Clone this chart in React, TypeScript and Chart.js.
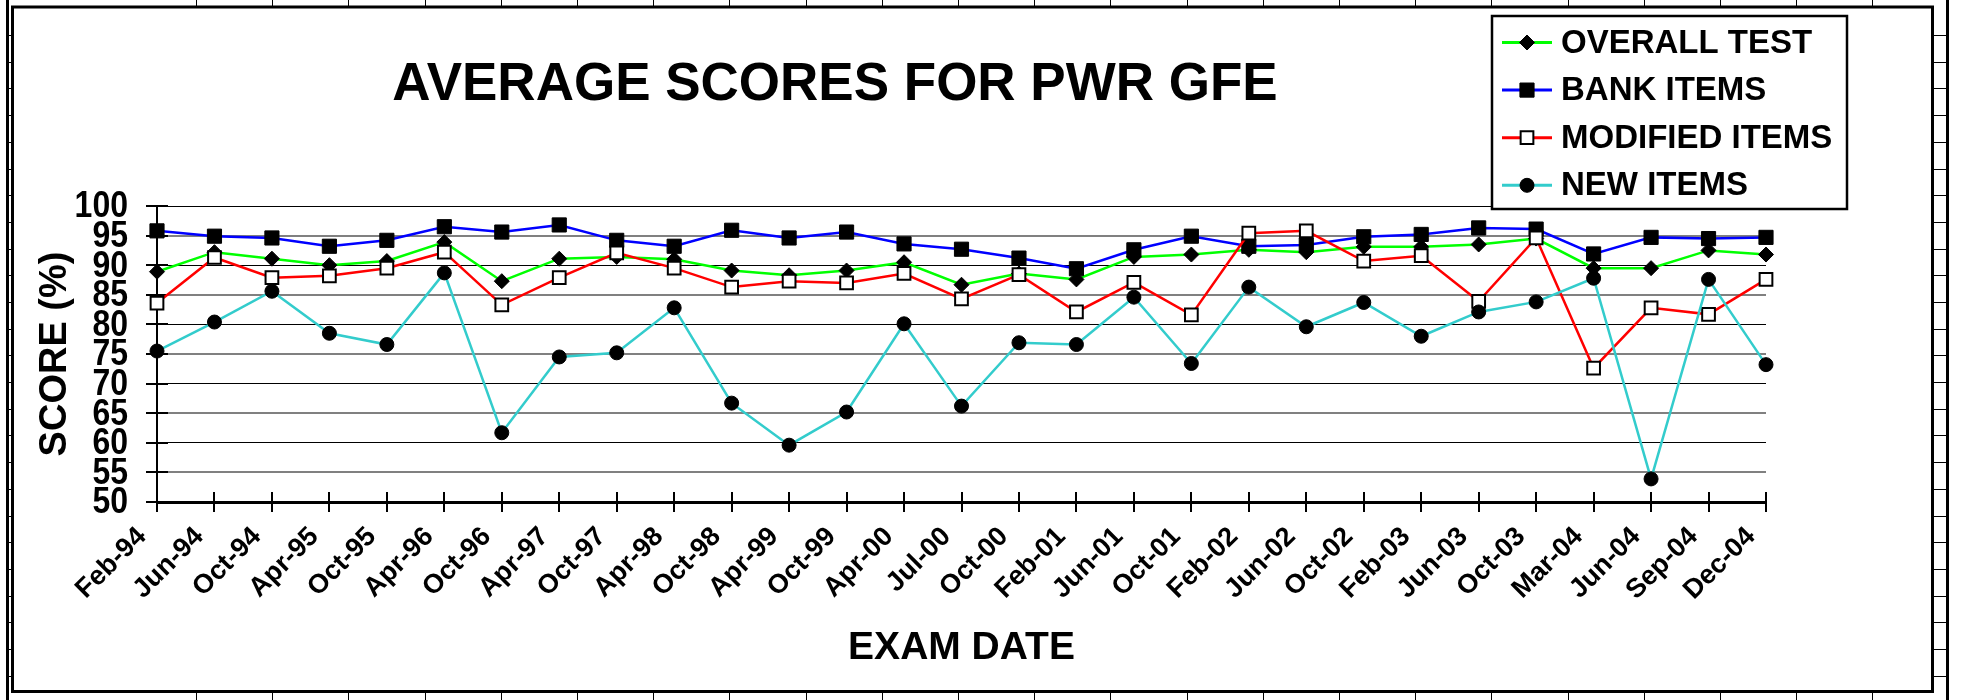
import React, { useEffect, useRef } from "react";
import { Chart, registerables } from "chart.js";
Chart.register(...registerables);

const examDates = [
  "Feb-94", "Jun-94", "Oct-94", "Apr-95", "Oct-95", "Apr-96", "Oct-96", "Apr-97",
  "Oct-97", "Apr-98", "Oct-98", "Apr-99", "Oct-99", "Apr-00", "Jul-00", "Oct-00",
  "Feb-01", "Jun-01", "Oct-01", "Feb-02", "Jun-02", "Oct-02", "Feb-03", "Jun-03",
  "Oct-03", "Mar-04", "Jun-04", "Sep-04", "Dec-04",
];

const overallTest = [
  88.9, 92.2, 91.1, 90.0, 90.7, 93.9, 87.3, 91.1, 91.4, 91.0,
  89.1, 88.3, 89.1, 90.5, 86.7, 88.6, 87.6, 91.4, 91.8, 92.6,
  92.2, 93.1, 93.1, 93.5, 94.5, 89.5, 89.5, 92.5, 91.8,
];

const bankItems = [
  95.8, 94.9, 94.6, 93.2, 94.2, 96.5, 95.6, 96.8, 94.2, 93.2,
  95.9, 94.6, 95.6, 93.6, 92.7, 91.2, 89.4, 92.6, 94.9, 93.2,
  93.4, 94.8, 95.2, 96.3, 96.1, 91.9, 94.7, 94.5, 94.7,
];

const modifiedItems = [
  83.6, 91.3, 87.9, 88.2, 89.5, 92.2, 83.3, 87.9, 92.1, 89.5,
  86.3, 87.3, 87.0, 88.6, 84.3, 88.4, 82.1, 87.1, 81.6, 95.4,
  95.8, 90.7, 91.6, 83.9, 94.6, 72.6, 82.8, 81.7, 87.6,
];

const newItems = [
  75.5, 80.4, 85.6, 78.5, 76.6, 88.7, 61.7, 74.5, 75.2, 82.8,
  66.7, 59.6, 65.2, 80.1, 66.2, 76.9, 76.6, 84.6, 73.4, 86.3,
  79.6, 83.7, 78.0, 82.1, 83.8, 87.8, 53.9, 87.6, 73.2,
];

const seriesNames = ["OVERALL TEST", "BANK ITEMS", "MODIFIED ITEMS", "NEW ITEMS"];
const chartTitle = "AVERAGE SCORES FOR PWR GFE";
const xTitle = "EXAM DATE";
const yTitle = "SCORE (%)";

const FONT = '"Liberation Sans", Arial, Helvetica, sans-serif';

function line(ctx: CanvasRenderingContext2D, x1: number, y1: number, x2: number, y2: number) {
  ctx.beginPath();
  ctx.moveTo(x1, y1);
  ctx.lineTo(x2, y2);
  ctx.stroke();
}

function drawMarker(ctx: CanvasRenderingContext2D, style: string, x: number, y: number, r: number, fill: string, stroke: string, bw: number) {
  ctx.save();
  ctx.fillStyle = fill;
  ctx.strokeStyle = stroke;
  ctx.lineWidth = bw;
  ctx.beginPath();
  if (style === "rectRot") {
    ctx.moveTo(x - r, y);
    ctx.lineTo(x, y - r);
    ctx.lineTo(x + r, y);
    ctx.lineTo(x, y + r);
    ctx.closePath();
  } else if (style === "rect") {
    const s = r * Math.SQRT1_2;
    ctx.rect(x - s, y - s, 2 * s, 2 * s);
  } else {
    ctx.arc(x, y, r, 0, Math.PI * 2);
  }
  ctx.fill();
  if (bw > 0) ctx.stroke();
  ctx.restore();
}

const decorPlugin = {
  id: "decor",
  beforeDraw(chart: any) {
    const ctx: CanvasRenderingContext2D = chart.ctx;
    ctx.save();
    ctx.fillStyle = "#fff";
    ctx.fillRect(0, 0, chart.width, chart.height);
    ctx.strokeStyle = "#000";
    ctx.lineWidth = 1;
    // spreadsheet column lines
    for (let k = 0; k <= 22; k++) {
      const x = Math.round(196 + 76.2 * k) + 0.5;
      line(ctx, x, 0, x, 7);
      line(ctx, x, 692, x, 700);
    }
    // spreadsheet row lines
    for (let y = 35; y < 690; y += 26.7) {
      const yy = Math.round(y) + 0.5;
      line(ctx, 8, yy, 12, yy);
      line(ctx, 1933, yy, 1947, yy);
    }
    ctx.lineWidth = 3;
    line(ctx, 7.5, 0, 7.5, 700);
    line(ctx, 1947.5, 0, 1947.5, 700);
    // chart frame
    ctx.strokeRect(12.5, 7, 1920, 684.5);
    ctx.restore();
  },
  beforeDatasetsDraw(chart: any) {
    const ctx: CanvasRenderingContext2D = chart.ctx;
    const xs = chart.scales.x;
    const ys = chart.scales.y;
    const area = chart.chartArea;
    ctx.save();
    ctx.strokeStyle = "#000";
    ctx.lineWidth = 2;
    ys.ticks.forEach((_t: any, i: number) => {
      const y = Math.round(ys.getPixelForTick(i));
      line(ctx, area.left - 11, y, area.left + 11, y);
    });
    xs.ticks.forEach((_t: any, i: number) => {
      const x = Math.round(xs.getPixelForTick(i));
      line(ctx, x, area.bottom - 10, x, area.bottom + 10);
    });
    // y tick labels (slightly tall, as in the reference)
    ctx.fillStyle = "#000";
    ctx.font = `bold 32px ${FONT}`;
    ctx.textAlign = "right";
    ctx.textBaseline = "middle";
    ys.ticks.forEach((t: any, i: number) => {
      const y = ys.getPixelForTick(i);
      ctx.save();
      ctx.translate(area.left - 29, y + 1);
      ctx.scale(1, 1.18);
      ctx.fillText(String(t.label), 0, 0);
      ctx.restore();
    });
    ctx.restore();
  },
  afterDraw(chart: any) {
    const ctx: CanvasRenderingContext2D = chart.ctx;
    const area = chart.chartArea;
    ctx.save();
    ctx.fillStyle = "#000";
    // main title
    ctx.font = `bold 53px ${FONT}`;
    ctx.textAlign = "center";
    ctx.textBaseline = "alphabetic";
    ctx.fillText(chartTitle, 835, 100);
    // x title
    ctx.font = `bold 39px ${FONT}`;
    ctx.fillText(xTitle, (area.left + area.right) / 2, 659);
    // y title
    ctx.save();
    ctx.translate(66, (area.top + area.bottom) / 2);
    ctx.rotate(-Math.PI / 2);
    ctx.font = `bold 38px ${FONT}`;
    ctx.fillText(yTitle, 0, 0);
    ctx.restore();

    // legend
    const lx = 1492, ly = 16, lw = 355, lh = 193;
    ctx.fillStyle = "#fff";
    ctx.fillRect(lx, ly, lw, lh);
    ctx.strokeStyle = "#000";
    ctx.lineWidth = 2.5;
    ctx.strokeRect(lx, ly, lw, lh);
    chart.data.datasets.forEach((ds: any, i: number) => {
      const y = 42.5 + i * 47.6;
      ctx.strokeStyle = ds.borderColor;
      ctx.lineWidth = 3;
      line(ctx, 1502, y, 1552, y);
      drawMarker(ctx, ds.pointStyle, 1527, y, ds.pointRadius, ds.pointBackgroundColor, ds.pointBorderColor, ds.pointBorderWidth);
      ctx.fillStyle = "#000";
      ctx.font = `bold 33px ${FONT}`;
      ctx.textAlign = "left";
      ctx.textBaseline = "middle";
      ctx.fillText(ds.label, 1561, y + 1);
    });
    ctx.restore();
  },
};

export default function App() {
  const ref = useRef<HTMLCanvasElement>(null);
  useEffect(() => {
    const canvas = ref.current;
    if (!canvas) return;
    const chart = new Chart(canvas, {
      type: "line",
      data: {
        labels: examDates,
        datasets: [
          {
            label: seriesNames[0], data: overallTest, borderColor: "#00FF00", borderWidth: 2.5,
            pointStyle: "rectRot", pointRadius: 7.5, pointBackgroundColor: "#000", pointBorderColor: "#000",
            pointBorderWidth: 1, tension: 0, order: 3, clip: false,
          },
          {
            label: seriesNames[1], data: bankItems, borderColor: "#0000FF", borderWidth: 2.5,
            pointStyle: "rect", pointRadius: 10, pointBackgroundColor: "#000", pointBorderColor: "#000",
            pointBorderWidth: 1, tension: 0, order: 2, clip: false,
          },
          {
            label: seriesNames[2], data: modifiedItems, borderColor: "#FF0000", borderWidth: 2.5,
            pointStyle: "rect", pointRadius: 9, pointBackgroundColor: "#fff", pointBorderColor: "#000",
            pointBorderWidth: 2, tension: 0, order: 1, clip: false,
          },
          {
            label: seriesNames[3], data: newItems, borderColor: "#33CCCC", borderWidth: 2.5,
            pointStyle: "circle", pointRadius: 7, pointBackgroundColor: "#000", pointBorderColor: "#000",
            pointBorderWidth: 1, tension: 0, order: 0, clip: false,
          },
        ] as any,
      },
      options: {
        responsive: false,
        animation: false,
        devicePixelRatio: 1,
        events: [],
        layout: { padding: { left: 0, right: 199, top: 206, bottom: 0 } },
        plugins: {
          legend: { display: false },
          title: { display: false },
          tooltip: { enabled: false },
        },
        scales: {
          x: {
            type: "category",
            offset: false,
            grid: { display: false, drawTicks: false },
            border: { display: true, color: "#000", width: 3 },
            ticks: {
              autoSkip: false,
              minRotation: 45,
              maxRotation: 45,
              padding: 19,
              labelOffset: -15,
              color: "#000",
              font: { family: FONT, size: 27, weight: "bold" },
            },
            afterFit: (s: any) => { s.height = 198; },
          },
          y: {
            min: 50,
            max: 100,
            ticks: {
              stepSize: 5,
              autoSkip: false,
              padding: 29,
              color: "rgba(0,0,0,0)",
              font: { family: FONT, size: 32, weight: "bold" },
            },
            grid: {
              drawTicks: false,
              color: (c: any) => (c.tick && c.tick.value % 10 === 0 ? "#000" : "#808080"),
              lineWidth: (c: any) => (c.tick && c.tick.value % 10 === 0 ? 1 : 2),
            },
            border: { display: true, color: "#000", width: 2 },
            afterFit: (s: any) => { s.width = 157; },
          },
        },
      } as any,
      plugins: [decorPlugin],
    });
    return () => chart.destroy();
  }, []);
  return (
    <div style={{ position: "fixed", left: 0, top: 0, width: 1965, height: 700, background: "#fff" }}>
      <canvas ref={ref} width={1965} height={700} style={{ display: "block", width: 1965, height: 700 }} />
    </div>
  );
}
